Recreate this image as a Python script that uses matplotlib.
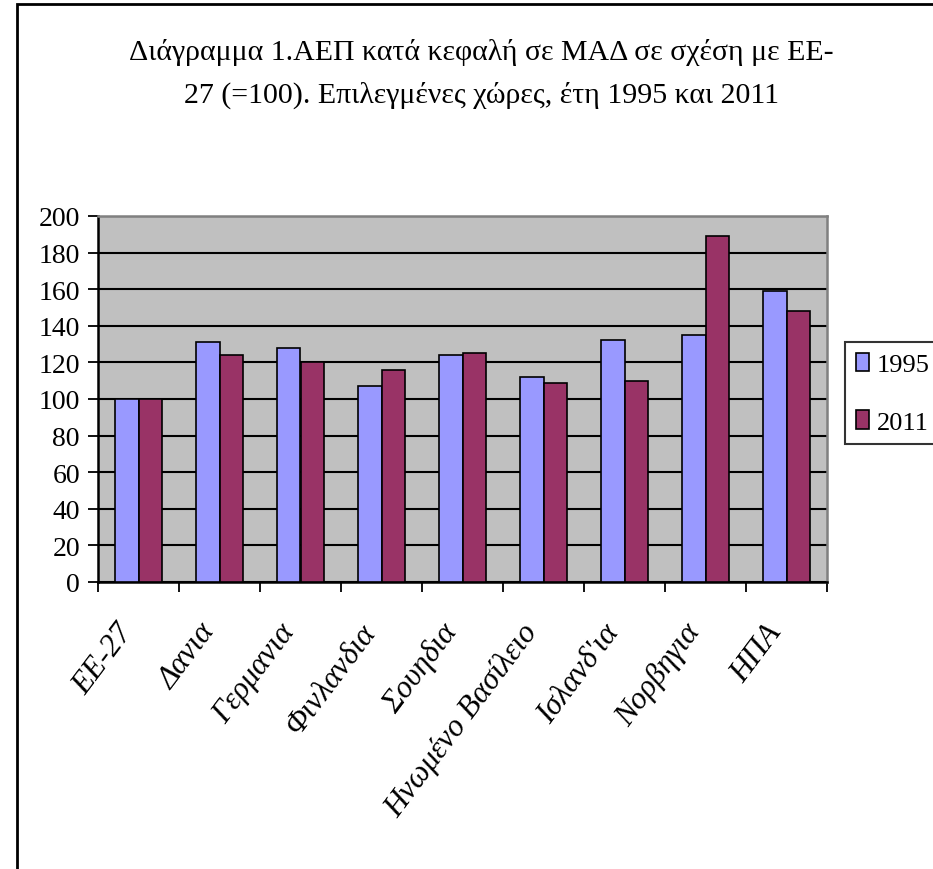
import matplotlib
matplotlib.use("Agg")
import matplotlib.pyplot as plt
import matplotlib.transforms as mtransforms
from matplotlib.patches import Rectangle
import numpy as np

plt.rcParams['font.family'] = ['Liberation Serif', 'DejaVu Serif']

countries = ["ΕΕ-27", "Δανια", "Γερμανια", "Φινλανδια", "Σουηδια",
             "Ηνωμένο Βασίλειο", "Ισλανδ'ια", "Νορβηγια", "ΗΠΑ"]
values_1995 = [100, 131, 128, 107, 124, 112, 132, 135, 159]
values_2011 = [100, 124, 120, 116, 125, 109, 110, 189, 148]
years = ["1995", "2011"]
title = "Διάγραμμα 1.ΑΕΠ κατά κεφαλή σε ΜΑΔ σε σχέση με ΕΕ-\n27 (=100). Επιλεγμένες χώρες, έτη 1995 και 2011"

fig = plt.figure(figsize=(9.33, 8.7), dpi=100)
ax = fig.add_axes([98 / 933, 1 - 583 / 870, 729 / 933, 366 / 870])
ax.set_facecolor('#C0C0C0')

x = np.arange(len(countries))
w = 0.285
ax.bar(x - w / 2, values_1995, w, color='#9999FF', edgecolor='black', linewidth=1.2,
       label=years[0], zorder=3)
ax.bar(x + w / 2, values_2011, w, color='#993366', edgecolor='black', linewidth=1.2,
       label=years[1], zorder=3)

ax.set_xlim(-0.5, len(countries) - 0.5)
ax.set_ylim(0, 200)
ax.set_yticks(range(0, 201, 20))
ax.yaxis.grid(True, color='black', linewidth=1.5, zorder=1)
ax.set_axisbelow(True)

# ticks at category boundaries, labels at centres
ax.set_xticks(np.arange(-0.5, len(countries), 1))
ax.set_xticklabels([])
ax.set_xticks(x, minor=True)
ax.set_xticklabels(countries, minor=True, rotation=53, ha='right', va='top',
                   rotation_mode='anchor', fontsize=22.5, style='italic')
ax.tick_params(axis='x', which='minor', length=0, pad=14)
ax.tick_params(axis='x', which='major', direction='out', length=7, width=1.3)
ax.tick_params(axis='y', direction='out', length=7, width=1.3, labelsize=20, pad=6)
offset = mtransforms.ScaledTranslation(-16 / 72, -12 / 72, fig.dpi_scale_trans)
for lab in ax.get_xticklabels(minor=True):
    lab.set_transform(lab.get_transform() + offset)

for side in ['left', 'bottom']:
    ax.spines[side].set_color('black')
    ax.spines[side].set_linewidth(1.8)
for side in ['top', 'right']:
    ax.spines[side].set_color('#808080')
    ax.spines[side].set_linewidth(1.8)

fig.text(481 / 933, 1 - 74 / 870, title, ha='center', va='center', fontsize=21.5,
         linespacing=1.75)

leg = ax.legend(loc='upper left', bbox_to_anchor=(845 / 933, 1 - 343 / 870),
                bbox_transform=fig.transFigure, fontsize=19, frameon=True,
                fancybox=False, edgecolor='black', handlelength=0.5,
                handleheight=0.7, handletextpad=0.3, borderpad=0.4,
                labelspacing=1.3, borderaxespad=0)
leg.get_frame().set_linewidth(1.5)

fig.patches.append(Rectangle((17 / 933, -0.1), 1.2, 1.1 - 5 / 870,
                             transform=fig.transFigure, fill=False,
                             edgecolor='black', linewidth=2.0, clip_on=False))

fig.savefig('out.png', dpi=100)
